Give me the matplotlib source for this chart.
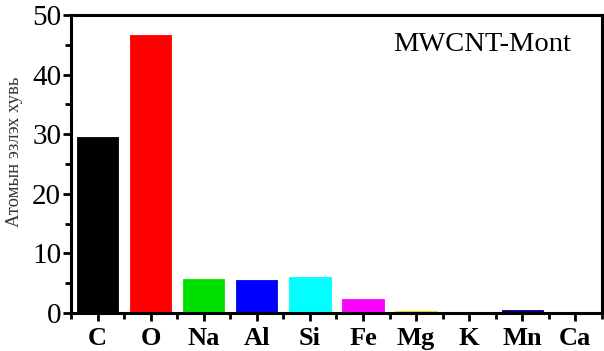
import matplotlib
matplotlib.use("Agg")
import matplotlib.pyplot as plt
from matplotlib.ticker import MultipleLocator

elements = ["C", "O", "Na", "Al", "Si", "Fe", "Mg", "K", "Mn", "Ca"]
atomic_pct = [29.6, 46.6, 5.7, 5.6, 6.1, 2.4, 0.3, 0.2, 0.5, 0.2]
bar_colors = ["#000000", "#ff0000", "#00e000", "#0000ff", "#00ffff",
              "#ff00ff", "#e8e000", "#606040", "#000080", "#502030"]
y_ticks = [0, 10, 20, 30, 40, 50]
sample_name = "MWCNT-Mont"
y_label = "Атомын эзлэх хувь"

serif = ["Liberation Serif", "DejaVu Serif"]

fig = plt.figure(figsize=(6.04, 3.51), dpi=100)
ax = fig.add_axes([0.1175, 0.108, 0.879, 0.849])

x = list(range(len(elements)))
ax.bar(x, atomic_pct, width=0.78, color=bar_colors, edgecolor=bar_colors,
       linewidth=0.6, zorder=2)

ax.set_xlim(-0.5, len(elements) - 0.5)
ax.set_ylim(0, 50)

for s in ax.spines.values():
    s.set_linewidth(2.2)

ax.set_yticks(y_ticks)
ax.set_yticklabels([str(v) for v in y_ticks], family=serif, fontsize=21)
ax.yaxis.set_minor_locator(MultipleLocator(5))

ax.set_xticks(x)
ax.set_xticklabels(elements, family=serif, fontsize=19, fontweight="bold")
ax.set_xticks([i + 0.5 for i in range(-1, len(elements))], minor=True)

ax.tick_params(axis="both", which="major", direction="out", length=6,
               width=2, pad=1)
ax.tick_params(axis="both", which="minor", direction="out", length=4,
               width=2)
ax.tick_params(axis="x", which="major", pad=4)

ax.set_ylabel(y_label, family=serif, fontsize=13.5, color="#333333")
ax.yaxis.set_label_coords(-0.09, 0.54)

ax.text(0.606, 0.90, sample_name, transform=ax.transAxes, family=serif,
        fontsize=20.5, ha="left", va="center")

fig.savefig("out.png", dpi=100)
